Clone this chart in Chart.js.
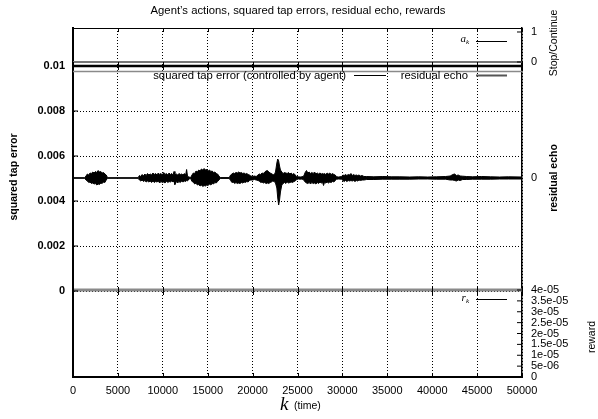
<!DOCTYPE html>
<html>
<head>
<meta charset="utf-8">
<script src="https://cdn.jsdelivr.net/npm/chart.js@4/dist/chart.umd.min.js"></script>
<style>
  body { margin: 0; background: #fff; }
  canvas { display: block; }
</style>
</head>
<body>
<canvas id="chart" width="598" height="419"></canvas>
<script>
// time axis
const xTicks = [0, 5000, 10000, 15000, 20000, 25000, 30000, 35000, 40000, 45000, 50000];
const xTickLabels = ['0', '5000', '10000', '15000', '20000', '25000', '30000', '35000', '40000', '45000', '50000'];

// squared tap error (left axis)
const tapTicks = [0, 0.002, 0.004, 0.006, 0.008, 0.01];
const tapTickLabels = ['0', '0.002', '0.004', '0.006', '0.008', '0.01'];
const kTap = [0, 50000];
const tapErr = [0.01, 0.01];

// agent's action a_k (Stop/Continue)
const actTicks = [0, 1];
const actTickLabels = ['0', '1'];
const kAct = [0, 50000];
const actVals = [0, 0];

// residual echo, drawn as upper / lower envelope of the waveform
const echoTicks = [0];
const echoTickLabels = ['0'];
const kEcho = [
  0, 1300, 1450, 1600, 1750, 1900, 2050, 2200, 2350, 2500,
  2650, 2800, 2950, 3100, 3250, 3400, 3550, 3700, 3850, 7250,
  7400, 7550, 7700, 7850, 8000, 8150, 8300, 8450, 8600, 8750,
  8900, 9050, 9200, 9350, 9500, 9650, 9800, 9950, 10100, 10250,
  10400, 10550, 10700, 10850, 11000, 11150, 11250, 11350, 11500, 11650,
  11800, 11950, 12100, 12250, 12400, 12550, 12650, 12750, 12900, 13100,
  13250, 13400, 13550, 13700, 13850, 14000, 14150, 14300, 14450, 14600,
  14750, 14900, 15050, 15200, 15350, 15500, 15650, 15800, 15950, 16100,
  16250, 16400, 17400, 17550, 17700, 17850, 18000, 18150, 18300, 18450,
  18600, 18750, 18900, 19050, 19200, 19350, 19500, 19650, 19800, 20000,
  20200, 20400, 20600, 20750, 20900, 21050, 21200, 21350, 21500, 21650,
  21800, 21950, 22100, 22250, 22400, 22550, 22700, 22800, 22900, 23000,
  23100, 23250, 23400, 23550, 23700, 23850, 24000, 24150, 24300, 24450,
  24600, 24750, 24900, 25100, 25300, 25500, 25700, 25850, 26000, 26150,
  26300, 26450, 26600, 26750, 26900, 27050, 27200, 27350, 27500, 27650,
  27800, 27900, 28000, 28150, 28300, 28450, 28600, 28750, 28900, 29050,
  29200, 29350, 29600, 29900, 30050, 30200, 30350, 30500, 30650, 30800,
  30950, 31100, 31250, 31400, 31550, 31700, 31850, 32000, 32200, 32400,
  32700, 33500, 34500, 35500, 36400, 37500, 38500, 39500, 40500, 41500,
  42000, 42300, 42500, 42700, 42900, 43100, 43400, 43800, 44500, 45500,
  46500, 47500, 48500, 50000];
const echoUpper = [
  .003, .003, .02, .04, .03, .05, .045, .06, .05, .065,
  .055, .075, .06, .065, .05, .055, .04, .03, .003, .003,
  .025, .015, .035, .02, .04, .025, .045, .03, .04, .03,
  .05, .035, .045, .03, .05, .035, .045, .03, .055, .035,
  .045, .03, .05, .035, .045, .03, .065, .03, .04, .03,
  .045, .035, .04, .03, .045, .03, .085, .02, .01, .005,
  .03, .05, .045, .07, .06, .08, .07, .09, .08, .095,
  .08, .085, .07, .08, .065, .07, .055, .06, .045, .04,
  .02, .004, .004, .03, .04, .05, .045, .055, .05, .06,
  .05, .055, .045, .05, .04, .045, .035, .03, .02, .015,
  .02, .015, .03, .04, .035, .05, .045, .06, .07, .075,
  .06, .05, .045, .035, .03, .06, .15, .19, .17, .12,
  .08, .06, .045, .055, .05, .045, .055, .04, .05, .035,
  .045, .03, .015, .012, .01, .012, .02, .055, .075, .05,
  .06, .045, .055, .045, .06, .04, .05, .04, .05, .04,
  .045, .04, .045, .035, .05, .04, .05, .035, .045, .035,
  .03, .012, .01, .015, .03, .025, .035, .025, .035, .03,
  .045, .025, .035, .025, .03, .025, .03, .02, .025, .015,
  .015, .012, .015, .012, .012, .01, .012, .01, .012, .015,
  .02, .035, .04, .025, .03, .02, .018, .015, .012, .015,
  .012, .01, .012, .01];
const echoLower = [
  -.003, -.003, -.02, -.03, -.045, -.04, -.055, -.05, -.06, -.055,
  -.07, -.06, -.065, -.05, -.055, -.04, -.045, -.02, -.003, -.003,
  -.02, -.03, -.02, -.035, -.025, -.04, -.03, -.04, -.03, -.045,
  -.03, -.045, -.035, -.04, -.03, -.05, -.035, -.045, -.04, -.05,
  -.03, -.045, -.035, -.04, -.03, -.04, -.03, -.065, -.035, -.05,
  -.035, -.045, -.03, -.04, -.03, -.035, -.025, -.03, -.01, -.005,
  -.035, -.04, -.06, -.05, -.07, -.065, -.08, -.07, -.085, -.075,
  -.08, -.07, -.075, -.06, -.07, -.055, -.06, -.045, -.05, -.035,
  -.02, -.004, -.004, -.025, -.045, -.04, -.055, -.045, -.055, -.05,
  -.055, -.045, -.05, -.04, -.045, -.035, -.04, -.025, -.02, -.02,
  -.015, -.02, -.025, -.03, -.045, -.04, -.05, -.045, -.055, -.05,
  -.055, -.045, -.04, -.03, -.035, -.05, -.1, -.2, -.27, -.22,
  -.14, -.07, -.055, -.045, -.055, -.04, -.05, -.045, -.04, -.045,
  -.035, -.03, -.015, -.01, -.012, -.01, -.02, -.04, -.05, -.055,
  -.045, -.06, -.045, -.055, -.05, -.06, -.045, -.055, -.04, -.05,
  -.045, -.075, -.045, -.05, -.04, -.05, -.04, -.045, -.035, -.04,
  -.025, -.012, -.01, -.012, -.025, -.035, -.025, -.035, -.025, -.03,
  -.025, -.03, -.025, -.035, -.025, -.03, -.02, -.025, -.02, -.02,
  -.015, -.015, -.012, -.012, -.012, -.012, -.01, -.01, -.012, -.012,
  -.02, -.02, -.025, -.03, -.02, -.025, -.015, -.015, -.012, -.012,
  -.012, -.01, -.01, -.01];

// reward r_k
const rewTicks = [0, 5e-6, 1e-5, 1.5e-5, 2e-5, 2.5e-5, 3e-5, 3.5e-5, 4e-5];
const rewTickLabels = ['0', '5e-06', '1e-05', '1.5e-05', '2e-05', '2.5e-05', '3e-05', '3.5e-05', '4e-05'];
const kRew = [0, 50000];
const rewVals = [4e-5, 4e-5];

const FONT = "'Liberation Sans', Arial, sans-serif";
const SERIF = "'Liberation Serif', 'Times New Roman', serif";

const pts = (xs, ys) => xs.map((x, i) => ({ x: x, y: ys[i] }));
const fixTicks = (vals) => (scale) => { scale.ticks = vals.map(v => ({ value: v })); };
const noSize = (scale) => { scale.width = 0; scale.height = 0; };

const decor = {
  id: 'decor',
  afterLayout(chart) {
    // axes have no size of their own; widen their boxes so the tick labels are not clipped
    const s = chart.scales;
    s.x.bottom = chart.height; s.x.height = s.x.bottom - s.x.top;
    s.yTap.left = 0; s.yTap.width = s.yTap.right;
    ['yAct', 'yEcho', 'yRew'].forEach(id => { s[id].right = chart.width; s[id].width = chart.width - s[id].left; });
  },
  afterDraw(chart) {
    const { ctx, chartArea: a, scales } = chart;
    const line = (x1, y1, x2, y2) => { ctx.beginPath(); ctx.moveTo(x1, y1); ctx.lineTo(x2, y2); ctx.stroke(); };
    ctx.save();

    // frame top and grey rule under the tap error line
    ctx.strokeStyle = '#000';
    ctx.lineWidth = 1;
    line(a.left, a.top + 0.5, a.right, a.top + 0.5);
    const yTop = scales.yTap.getPixelForValue(0.01);
    const yZero = scales.yTap.getPixelForValue(0);
    ctx.strokeStyle = '#8a8a8a';
    ctx.lineWidth = 1.5;
    line(a.left, yTop + 5.5, a.right, yTop + 5.5);

    // inward tick marks
    ctx.strokeStyle = '#000';
    ctx.lineWidth = 1;
    xTicks.forEach(v => {
      const px = Math.round(scales.x.getPixelForValue(v)) + 0.5;
      line(px, a.top, px, a.top + 4);
      line(px, yTop - 4, px, yTop + 4);
      line(px, yZero - 4, px, yZero + 4);
      line(px, a.bottom, px, a.bottom - 4);
    });
    tapTicks.forEach(v => {
      const py = scales.yTap.getPixelForValue(v);
      line(a.left, py, a.left + 5, py);
    });
    actTicks.forEach(v => {
      const py = scales.yAct.getPixelForValue(v);
      line(a.right - 5, py, a.right, py);
    });
    echoTicks.forEach(v => {
      const py = scales.yEcho.getPixelForValue(v);
      line(a.right - 5, py, a.right, py);
    });
    rewTicks.forEach(v => {
      const py = scales.yRew.getPixelForValue(v);
      line(a.right - 5, py, a.right, py);
    });

    // title
    ctx.fillStyle = '#000';
    ctx.font = '11.3px ' + FONT;
    ctx.textAlign = 'center';
    ctx.textBaseline = 'middle';
    ctx.fillText('Agent\u2019s actions, squared tap errors, residual echo, rewards', 298, 11);

    // legend entries
    ctx.textAlign = 'right';
    ctx.fillText('squared tap error (controlled by agent)', 346, 76);
    ctx.fillText('residual echo', 468, 76);
    ctx.lineWidth = 1;
    ctx.strokeStyle = '#000';
    line(354, 75.5, 386, 75.5);
    line(476, 41.5, 507, 41.5);
    line(476, 299.5, 507, 299.5);
    ctx.strokeStyle = '#555';
    ctx.lineWidth = 2;
    line(476, 75.5, 507, 75.5);

    const sub = (main, s, xr, y) => {
      ctx.textAlign = 'left';
      ctx.font = 'italic 11px ' + SERIF;
      const w1 = ctx.measureText(main).width;
      ctx.font = 'italic 7px ' + SERIF;
      const w2 = ctx.measureText(s).width;
      const x0 = xr - w1 - w2;
      ctx.font = 'italic 11px ' + SERIF;
      ctx.fillText(main, x0, y);
      ctx.font = 'italic 7px ' + SERIF;
      ctx.fillText(s, x0 + w1, y + 3);
    };
    sub('a', 'k', 469, 39);
    sub('r', 'k', 469, 298);

    // axis titles
    const vtext = (txt, x, y, font) => {
      ctx.save();
      ctx.translate(x, y);
      ctx.rotate(-Math.PI / 2);
      ctx.font = font;
      ctx.textAlign = 'center';
      ctx.textBaseline = 'middle';
      ctx.fillText(txt, 0, 0);
      ctx.restore();
    };
    vtext('squared tap error', 14, 177, 'bold 10.5px ' + FONT);
    vtext('residual echo', 554, 178, 'bold 10.5px ' + FONT);
    vtext('Stop/Continue', 554, 43, '10.5px ' + FONT);
    vtext('reward', 592, 337, '10.5px ' + FONT);

    // x axis title
    ctx.textAlign = 'left';
    ctx.textBaseline = 'alphabetic';
    ctx.font = 'italic 19px ' + SERIF;
    ctx.fillText('k', 280, 410);
    ctx.font = '10.5px ' + FONT;
    ctx.fillText('(time)', 294, 409);

    ctx.restore();
  }
};

new Chart(document.getElementById('chart'), {
  type: 'line',
  data: {
    datasets: [
      { label: 'a_k', data: pts(kAct, actVals), yAxisID: 'yAct',
        borderColor: '#777', borderWidth: 2, pointRadius: 0 },
      { label: 'squared tap error (controlled by agent)', data: pts(kTap, tapErr), yAxisID: 'yTap',
        borderColor: '#000', borderWidth: 2.5, pointRadius: 0 },
      { label: 'residual echo', data: pts(kEcho, echoUpper), yAxisID: 'yEcho',
        borderColor: '#000', borderWidth: 1, pointRadius: 0, fill: '+1', backgroundColor: '#000' },
      { label: 'residual echo (lower)', data: pts(kEcho, echoLower), yAxisID: 'yEcho',
        borderColor: '#000', borderWidth: 1, pointRadius: 0 },
      { label: 'r_k', data: pts(kRew, rewVals), yAxisID: 'yRew',
        borderColor: '#8a8a8a', borderWidth: 3, pointRadius: 0 }
    ]
  },
  options: {
    responsive: false,
    animation: false,
    devicePixelRatio: 1,
    layout: { autoPadding: false, padding: { left: 73, right: 76, top: 28, bottom: 42 } },
    plugins: { legend: { display: false }, tooltip: { enabled: false } },
    scales: {
      x: {
        type: 'linear', min: 0, max: 50000,
        afterBuildTicks: fixTicks(xTicks), afterFit: noSize,
        ticks: { autoSkip: false, maxRotation: 0, padding: 7, color: '#000',
          font: { family: FONT, size: 11 }, callback: (v, i) => xTickLabels[i] },
        grid: { color: '#000', lineWidth: 1, drawTicks: false },
        border: { display: true, color: '#000', width: 2, dash: [1, 2] }
      },
      yTap: {
        position: 'left', min: -0.0038222, max: 0.0116889,
        afterBuildTicks: fixTicks(tapTicks), afterFit: noSize,
        ticks: { autoSkip: false, padding: 8, color: '#000',
          font: { family: FONT, size: 11, weight: 'bold' }, callback: (v, i) => tapTickLabels[i] },
        grid: { color: '#000', lineWidth: 1, drawTicks: false },
        border: { display: true, color: '#000', width: 2, dash: [1, 2] }
      },
      yAct: {
        position: 'right', min: -10.5, max: 1.1333,
        afterBuildTicks: fixTicks(actTicks), afterFit: noSize,
        ticks: { autoSkip: false, padding: 9, color: '#000',
          font: { family: FONT, size: 11 }, callback: (v, i) => actTickLabels[i] },
        grid: { display: false, drawTicks: false },
        border: { display: true, color: '#000', width: 1.5 }
      },
      yEcho: {
        position: 'right', min: -1.99, max: 1.5,
        afterBuildTicks: fixTicks(echoTicks), afterFit: noSize,
        ticks: { autoSkip: false, padding: 9, color: '#000',
          font: { family: FONT, size: 11 }, callback: (v, i) => echoTickLabels[i] },
        grid: { display: false, drawTicks: false },
        border: { display: false }
      },
      yRew: {
        position: 'right', min: 0, max: 1.6046e-4,
        afterBuildTicks: fixTicks(rewTicks), afterFit: noSize,
        ticks: { autoSkip: false, padding: 9, color: '#000',
          font: { family: FONT, size: 11 }, callback: (v, i) => rewTickLabels[i] },
        grid: { display: false, drawTicks: false },
        border: { display: false }
      }
    }
  },
  plugins: [decor]
});
</script>
</body>
</html>
